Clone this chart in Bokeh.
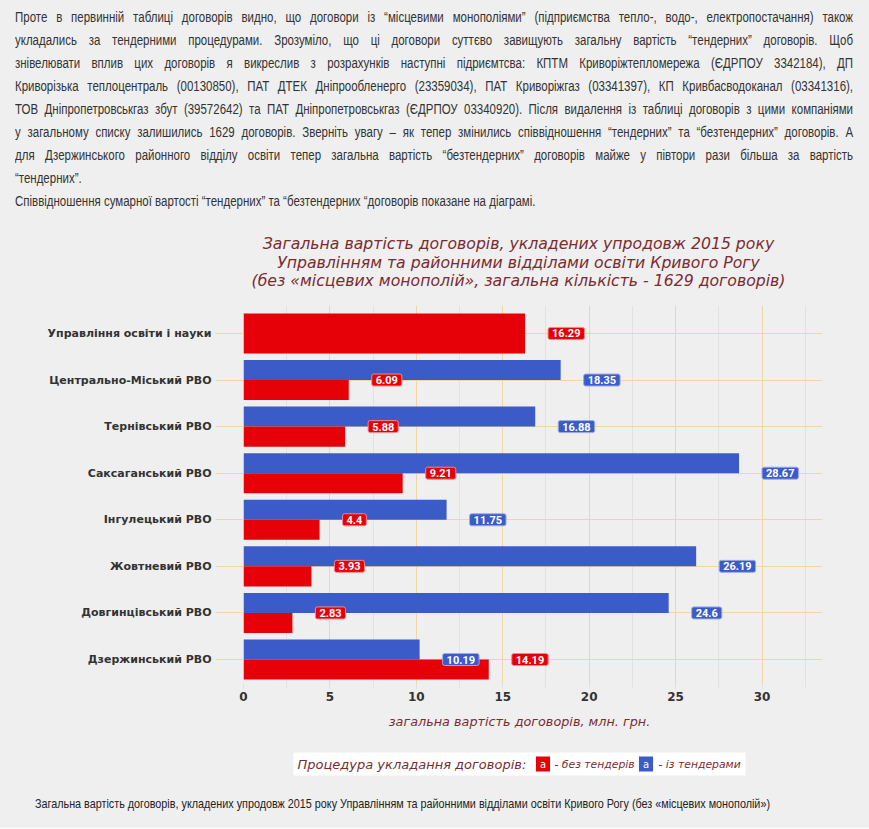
from bokeh.plotting import figure
from bokeh.models import Range1d, FixedTicker, SingleIntervalTicker, Div, ColumnDataSource
from bokeh.layouts import column
from bokeh.core.properties import value
from bokeh.embed import file_html
from bokeh.resources import INLINE

# ---------------- data ----------------
categories = ["Управління освіти і науки", "Центрально-Міський РВО", "Тернівський РВО",
              "Саксаганський РВО", "Інгулецький РВО", "Жовтневий РВО",
              "Довгинцівський РВО", "Дзержинський РВО"]
no_tender = [16.29, 6.09, 5.88, 9.21, 4.4, 3.93, 2.83, 14.19]
with_tender = [None, 18.35, 16.88, 28.67, 11.75, 26.19, 24.6, 10.19]
series_names = ["без тендерів", "із тендерами"]
title_lines = ["Загальна вартість договорів, укладених упродовж 2015 року",
               "Управлінням та районними відділами освіти Кривого Рогу",
               "(без «місцевих монополій», загальна кількість - 1629 договорів)"]
x_title = "загальна вартість договорів, млн. грн."
legend_title = "Процедура укладання договорів:"
paragraph_lines = [
    "Проте в первинній таблиці договорів видно, що договори із “місцевими монополіями” (підприємства тепло-, водо-, електропостачання) також",
    "укладались за тендерними процедурами. Зрозуміло, що ці договори суттєво завищують загальну вартість “тендерних” договорів. Щоб",
    "знівелювати вплив цих договорів я викреслив з розрахунків наступні підриємтсва: КПТМ Криворіжтепломережа (ЄДРПОУ 3342184), ДП",
    "Криворізька теплоцентраль (00130850), ПАТ ДТЕК Дніпрообленерго (23359034), ПАТ Криворіжгаз (03341397), КП Кривбасводоканал (03341316),",
    "ТОВ Дніпропетровськгаз збут (39572642) та ПАТ Дніпропетровськгаз (ЄДРПОУ 03340920). Після видалення із таблиці договорів з цими компаніями",
    "у загальному списку залишились 1629 договорів. Зверніть увагу – як тепер змінились співвідношення “тендерних” та “безтендерних” договорів. А",
    "для Дзержинського районного відділу освіти тепер загальна вартість “безтендерних” договорів майже у півтори рази більша за вартість",
    "“тендерних”.",
    "Співвідношення сумарної вартості “тендерних” та “безтендерних “договорів показане на діаграмі.",
]
justified_count = 7
caption = "Загальна вартість договорів, укладених упродовж 2015 року Управлінням та районними відділами освіти Кривого Рогу (без «місцевих монополій»)"

# ---------------- style ----------------
RED = "#e60008"
BLUE = "#3a5bc8"
MAROON = "#7a2c2f"
GOLD = "#f0d6a2"
MINOR = "#e2e2e2"
BG = "#efefef"
TXT = "#333333"
BAR_H = 0.43
W = 869
FL, FR = 243, 822          # frame left / right in page pixels (shared by all figures)
SX = 0.82                  # horizontal squeeze to mimic a narrow web font

n = len(categories)
ypos = [-i for i in range(n)]

blue_idx = [i for i, v in enumerate(with_tender) if v is not None]
blue_src = ColumnDataSource(dict(
    y=[ypos[i] + BAR_H / 2 for i in blue_idx],
    ly=[ypos[i] for i in blue_idx],
    v=[with_tender[i] for i in blue_idx],
    txt=[f"{with_tender[i]:g}" for i in blue_idx]))
red_src = ColumnDataSource(dict(
    y=[ypos[i] - BAR_H / 2 if with_tender[i] is not None else ypos[i] for i in range(n)],
    h=[BAR_H if with_tender[i] is not None else 2 * BAR_H for i in range(n)],
    ly=ypos,
    v=no_tender,
    txt=[f"{v:g}" for v in no_tender]))


def blank_fig(height):
    f = figure(width=W, height=height, x_range=Range1d(FL, FR), y_range=Range1d(height, 0),
               x_axis_type=None, y_axis_type=None, output_backend="svg", toolbar_location=None,
               min_border_left=FL, min_border_right=W - FR, min_border_top=0, min_border_bottom=0)
    f.background_fill_color = BG
    f.border_fill_color = BG
    f.outline_line_color = None
    return f


# ---------------- header (chart title) ----------------
head = blank_fig(83)
head.text(x=[518] * 3, y=[21, 40, 58], text=title_lines, text_align="center",
          text_baseline="middle", text_font=value("DejaVu Sans"), text_font_style="italic",
          text_font_size="15.7px", text_color=MAROON)

# ---------------- main chart ----------------
p = figure(width=W, height=402, x_range=Range1d(0, 33.5), y_range=Range1d(-7.515, 0.60),
           output_backend="svg", toolbar_location=None,
           min_border_left=FL, min_border_right=W - FR, min_border_top=0, min_border_bottom=24)
p.background_fill_color = BG
p.border_fill_color = BG
p.outline_line_color = None

p.xaxis.ticker = SingleIntervalTicker(interval=5, num_minor_ticks=2)
p.xgrid.ticker = p.xaxis.ticker
p.xgrid.grid_line_color = GOLD
p.xgrid.minor_grid_line_color = MINOR
p.yaxis.ticker = FixedTicker(ticks=ypos)
p.ygrid.ticker = FixedTicker(ticks=ypos)
p.ygrid.grid_line_color = GOLD

p.yaxis.major_label_overrides = {y: c for y, c in zip(ypos, categories)}
p.yaxis.axis_line_color = None
p.yaxis.major_tick_line_color = GOLD
p.yaxis.major_tick_out = 28
p.yaxis.major_tick_in = 0
p.yaxis.minor_tick_line_color = None
p.yaxis.major_label_standoff = 4
p.yaxis.major_label_text_font = "DejaVu Sans"
p.yaxis.major_label_text_font_style = "bold"
p.yaxis.major_label_text_font_size = "11px"
p.yaxis.major_label_text_color = TXT

p.xaxis.axis_line_color = None
p.xaxis.major_tick_line_color = GOLD
p.xaxis.major_tick_out = 5
p.xaxis.major_tick_in = 0
p.xaxis.minor_tick_line_color = MINOR
p.xaxis.minor_tick_out = 5
p.xaxis.minor_tick_in = 0
p.xaxis.major_label_standoff = 3
p.xaxis.major_label_text_font = "DejaVu Sans"
p.xaxis.major_label_text_font_style = "bold"
p.xaxis.major_label_text_font_size = "12px"
p.xaxis.major_label_text_color = TXT

p.hbar(y="y", height=BAR_H, left=0, right="v", source=blue_src, fill_color=BLUE, line_color=None)
p.hbar(y="y", height="h", left=0, right="v", source=red_src, fill_color=RED, line_color=None)

lab_kw = dict(x="v", y="ly", text="txt", x_offset=23, text_align="left", text_baseline="middle",
              text_color="white", text_font=value("Roboto"), text_font_style="bold",
              text_font_size="11px", padding=dict(left=4, right=4, top=2, bottom=2),
              border_radius=2, border_line_width=1)
p.text(source=blue_src, background_fill_color=BLUE, border_line_color="#9aaae6", **lab_kw)
p.text(source=red_src, background_fill_color=RED, border_line_color="#f08a8a", **lab_kw)

# ---------------- axis title + legend ----------------
foot = blank_fig(83)
foot.text(x=[519], y=[14], text=[x_title], text_align="center", text_baseline="middle",
          text_font=value("DejaVu Sans"), text_font_style="italic", text_font_size="12.8px",
          text_color=MAROON)
foot.quad(left=[293], right=[745], top=[45], bottom=[68], fill_color="white", line_color=None)
foot.text(x=[297], y=[56.5], text=[legend_title], text_align="left", text_baseline="middle",
          text_font=value("DejaVu Sans"), text_font_style="italic", text_font_size="13px",
          text_color=MAROON)
foot.text(x=[542.5, 645.5], y=[56.5, 56.5], text=["a", "a"], text_align="center",
          text_baseline="middle", text_font=value("DejaVu Sans"), text_font_size="10px",
          text_color="white", background_fill_color=[RED, BLUE],
          padding=dict(left=4, right=4, top=2, bottom=2))
foot.text(x=[554, 658], y=[56.5, 56.5], text=["- " + s for s in series_names], text_align="left",
          text_baseline="middle", text_font=value("DejaVu Sans"), text_font_style="italic",
          text_font_size="10.8px", text_color=MAROON)

# ---------------- page text ----------------
FONT = "'Liberation Sans', Arial, sans-serif"
inner_w = 838 / SX
rows = []
for i, line in enumerate(paragraph_lines):
    align = "text-align:justify;text-align-last:justify;" if i < justified_count else "text-align:left;"
    rows.append(f'<div style="width:{inner_w:.1f}px;height:23px;line-height:23px;'
                f'transform:scaleX({SX});transform-origin:0 0;{align}">{line}</div>')
top_html = (f'<div style="width:{W}px;height:222px;box-sizing:border-box;padding:6px 0 0 15px;'
            f'overflow:hidden;background:{BG};font-family:{FONT};font-size:14px;color:{TXT};">'
            + "".join(rows) + "</div>")
top_div = Div(text=top_html, width=W, height=222, margin=(0, 0, 0, 0),
              styles={"background-color": BG, "overflow": "hidden"})
cap_html = (f'<div style="width:{W}px;height:38px;box-sizing:border-box;padding:2px 0 0 35px;'
            f'overflow:hidden;background:{BG};font-family:{FONT};font-size:13px;color:#222;">'
            f'<div style="width:{800 / SX:.1f}px;line-height:23px;transform:scaleX(0.83);'
            f'transform-origin:0 0;white-space:nowrap;">{caption}</div></div>')
cap_div = Div(text=cap_html, width=W, height=38, margin=(0, 0, 0, 0),
              styles={"background-color": BG, "overflow": "hidden"})

layout = column(top_div, head, p, foot, cap_div, spacing=0, styles={"background-color": BG})
open("out.html", "w").write(file_html(layout, INLINE))
